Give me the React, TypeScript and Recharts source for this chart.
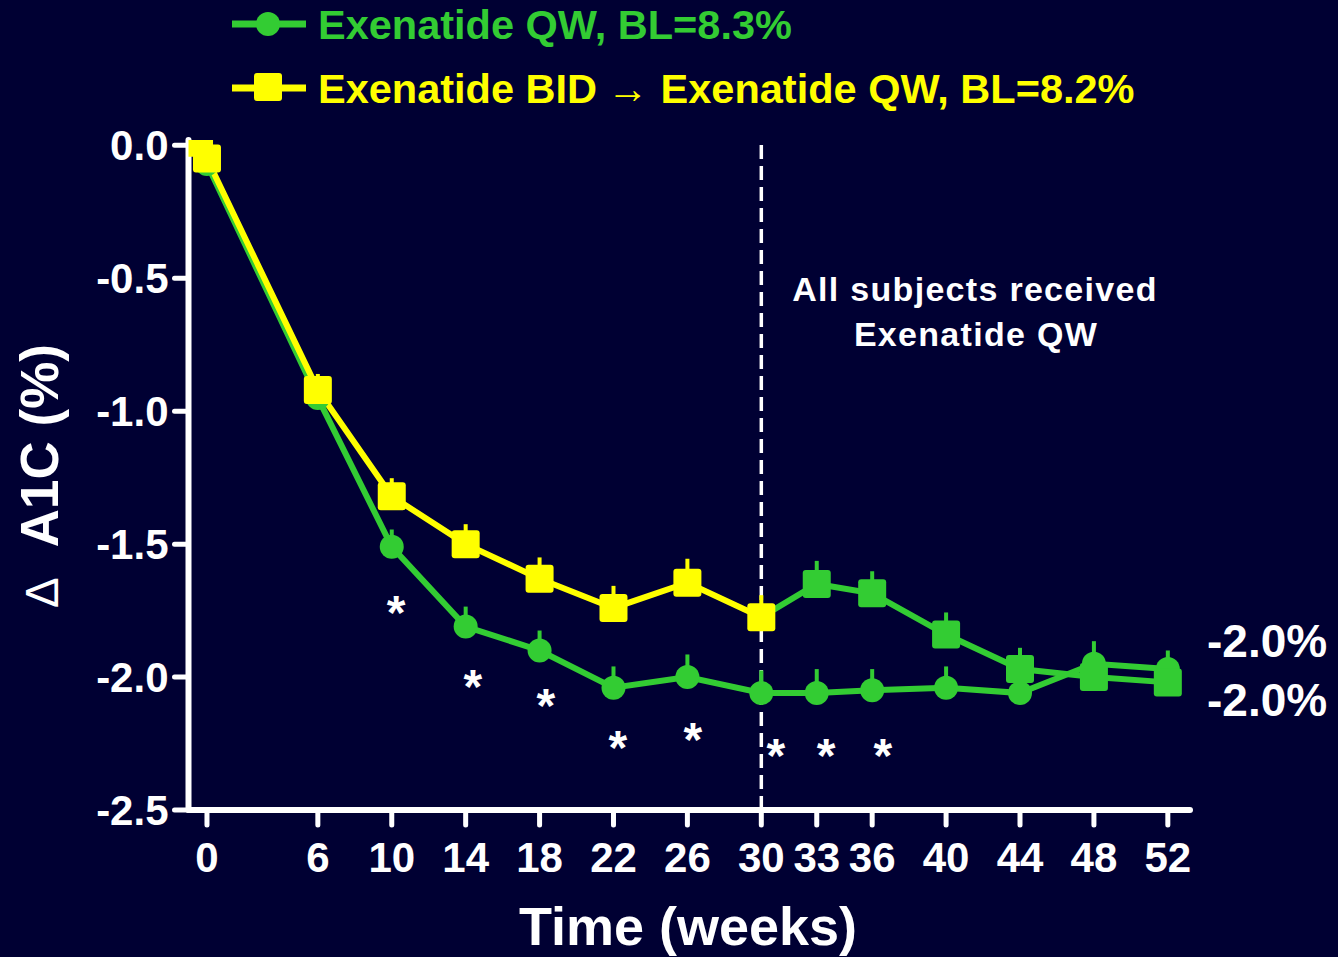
import React from 'react';
import {
  ComposedChart,
  Line,
  XAxis,
  YAxis,
  ErrorBar,
  ReferenceLine,
  ReferenceDot,
  Customized,
} from 'recharts';

// Visit weeks and mean change in A1C (%) with upper error bar length (SE)
const weeks = [0, 6, 10, 14, 18, 22, 26, 30, 33, 36, 40, 44, 48, 52];
const qwChange = [-0.07, -0.95, -1.51, -1.81, -1.9, -2.04, -2.0, -2.06, -2.06, -2.05, -2.04, -2.06, -1.95, -1.97];
const qwSe = [0, 0.05, 0.065, 0.075, 0.075, 0.08, 0.085, 0.085, 0.09, 0.08, 0.08, 0.08, 0.085, 0.07];

const bidWeeks = [-0.43, 0, 6, 10, 14, 18, 22, 26, 30, 33, 36, 40, 44, 48, 52];
const bidChange = [0.01, -0.05, -0.92, -1.32, -1.5, -1.63, -1.74, -1.645, -1.775, -1.65, -1.685, -1.84, -1.97, -2.0, -2.02];
const bidSe = [0, 0, 0.06, 0.068, 0.075, 0.08, 0.083, 0.09, 0.083, 0.087, 0.083, 0.083, 0.08, 0.08, 0.075];

// Week at which every subject moved to exenatide QW
const switchWeek = 30;

const yTicks = [0, -0.5, -1.0, -1.5, -2.0, -2.5];

// Significance markers (week, A1C change) placed under the QW curve
const starWeeks = [10.23, 14.39, 18.34, 22.24, 26.3, 30.79, 33.5, 36.58];
const starLevels = [-1.72, -2.0, -2.07, -2.23, -2.2, -2.26, -2.26, -2.26];

const legendLabels = ['Exenatide QW, BL=8.3%', 'Exenatide BID', 'Exenatide QW, BL=8.2%'];
const endLabels = ['-2.0%', '-2.0%'];

const GREEN = '#33cc33';
const YELLOW = '#ffff00';
const BG = '#000033';
const FONT = '"Liberation Sans", Arial, Helvetica, sans-serif';

const qwData = weeks.map((w, i) => ({ week: w, value: qwChange[i], err: [0, qwSe[i]] }));
const bidAll = bidWeeks.map((w, i) => ({ week: w, value: bidChange[i], err: [0, bidSe[i]] }));
const bidBefore = bidAll.filter((d) => d.week <= switchWeek);
const bidAfter = bidAll
  .filter((d) => d.week >= switchWeek)
  .map((d) => (d.week === switchWeek ? { ...d, err: undefined } : d));

const circleDot = (color: string) => (props: any) => {
  const { cx, cy, index } = props;
  if (cx == null || cy == null) return <g key={`c-${index}`} />;
  return <circle key={`c-${index}`} cx={cx} cy={cy} r={12} fill={color} />;
};

const squareDot = (color: string, skipWeek?: number) => (props: any) => {
  const { cx, cy, index, payload } = props;
  if (cx == null || cy == null || (skipWeek != null && payload.week === skipWeek))
    return <g key={`s-${index}`} />;
  return <rect key={`s-${index}`} x={cx - 14} y={cy - 14} width={28} height={28} rx={3} fill={color} />;
};

const Star = (props: any) => {
  const { cx, cy } = props;
  return (
    <text x={cx} y={cy + 26} textAnchor="middle" fill="#fff" fontSize={48} fontWeight={700} fontFamily={FONT}>
      *
    </text>
  );
};

const Overlay = () => (
  <g fontFamily={FONT}>
    {/* legend */}
    <line x1={232} y1={24} x2={306} y2={24} stroke={GREEN} strokeWidth={7} />
    <circle cx={268} cy={24} r={12} fill={GREEN} />
    <text x={318} y={39} fill={GREEN} fontSize={41.5} fontWeight={700}>
      {legendLabels[0]}
    </text>
    <line x1={232} y1={88} x2={306} y2={88} stroke={YELLOW} strokeWidth={7} />
    <rect x={254} y={73} width={28} height={28} rx={3} fill={YELLOW} />
    <text x={318} y={103} fill={YELLOW} fontSize={41.5} fontWeight={700}>
      {legendLabels[1]}
      <tspan fontWeight={400} dx={10}>→</tspan>
      <tspan dx={12}>{legendLabels[2]}</tspan>
    </text>

    {/* switch annotation */}
    <text x={975} y={301} textAnchor="middle" fill="#fff" fontSize={34} fontWeight={700} letterSpacing={1.3}>
      All subjects received
    </text>
    <text x={976} y={346} textAnchor="middle" fill="#fff" fontSize={34} fontWeight={700} letterSpacing={1.3}>
      Exenatide QW
    </text>

    {/* end-of-study values */}
    <text x={1207} y={657} fill="#fff" fontSize={46} fontWeight={700}>
      {endLabels[0]}
    </text>
    <text x={1207} y={716} fill="#fff" fontSize={46} fontWeight={700}>
      {endLabels[1]}
    </text>

    {/* axis titles */}
    <text x={688} y={945} textAnchor="middle" fill="#fff" fontSize={54} fontWeight={700}>
      Time (weeks)
    </text>
    <text transform="translate(58, 608) rotate(-90)" fill="#fff">
      <tspan fontSize={46} fontWeight={400}>Δ</tspan>
      <tspan dx={30} fontSize={53} fontWeight={700}>A1C (%)</tspan>
    </text>
  </g>
);

export default function App() {
  return (
    <div style={{ position: 'absolute', left: 0, top: 0, width: 1338, height: 957, background: BG }}>
      <ComposedChart width={1338} height={957} margin={{ top: 140, right: 148, bottom: 0, left: 0 }}>
        <XAxis
          type="number"
          dataKey="week"
          domain={[-1, 53.2]}
          ticks={weeks}
          interval={0}
          allowDataOverflow
          axisLine={{ stroke: '#fff', strokeWidth: 6, strokeLinecap: 'round' }}
          tickLine={{ stroke: '#fff', strokeWidth: 5, strokeLinecap: 'round' }}
          tickSize={15}
          tickMargin={17}
          tick={{ fill: '#fff', fontSize: 42, fontWeight: 700, fontFamily: FONT }}
          height={147}
        />
        <YAxis
          type="number"
          domain={[-2.5, 0.02]}
          ticks={yTicks}
          interval={0}
          allowDataOverflow
          tickFormatter={(v: number) => v.toFixed(1)}
          axisLine={{ stroke: '#fff', strokeWidth: 6, strokeLinecap: 'round' }}
          tickLine={{ stroke: '#fff', strokeWidth: 5, strokeLinecap: 'round' }}
          tickSize={14}
          tickMargin={6}
          tick={{ fill: '#fff', fontSize: 42, fontWeight: 700, fontFamily: FONT }}
          width={188.5}
        />
        <ReferenceLine x={switchWeek} stroke="#fff" strokeWidth={3.5} strokeDasharray="14 7" />

        <Line
          data={qwData}
          dataKey="value"
          stroke={GREEN}
          strokeWidth={6}
          dot={circleDot(GREEN)}
          activeDot={false}
          isAnimationActive={false}
        >
          <ErrorBar dataKey="err" direction="y" width={0} stroke={GREEN} strokeWidth={4} isAnimationActive={false} />
        </Line>
        <Line
          data={bidAfter}
          dataKey="value"
          stroke={GREEN}
          strokeWidth={6}
          dot={squareDot(GREEN, switchWeek)}
          activeDot={false}
          isAnimationActive={false}
        >
          <ErrorBar dataKey="err" direction="y" width={0} stroke={GREEN} strokeWidth={4} isAnimationActive={false} />
        </Line>
        <Line
          data={bidBefore}
          dataKey="value"
          stroke={YELLOW}
          strokeWidth={6}
          dot={squareDot(YELLOW)}
          activeDot={false}
          isAnimationActive={false}
        >
          <ErrorBar dataKey="err" direction="y" width={0} stroke={YELLOW} strokeWidth={4} isAnimationActive={false} />
        </Line>

        {starWeeks.map((w, i) => (
          <ReferenceDot key={`star-${i}`} x={w} y={starLevels[i]} r={0} shape={Star} />
        ))}

        <Customized component={Overlay} />
      </ComposedChart>
    </div>
  );
}
